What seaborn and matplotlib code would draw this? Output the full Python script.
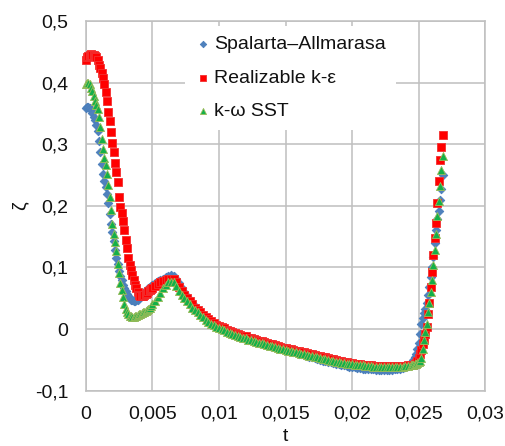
import numpy as np
import matplotlib
matplotlib.use("Agg")
import matplotlib.pyplot as plt
import seaborn as sns

# Time instants of the stored samples: every 0.0001 s at the start and end,
# every 0.0002 s in the middle of the cycle.
t = np.round(np.concatenate([
    np.arange(51) * 1e-4,            # 0.0000 ... 0.0050
    0.0052 + np.arange(97) * 2e-4,   # 0.0052 ... 0.0244
    0.0245 + np.arange(24) * 1e-4,   # 0.0245 ... 0.0268
]), 5)

labels = ["Spalarta\u2013Allmarasa", "Realizable k-\u03b5", "k-\u03c9 SST"]

zeta_sa = [
    0.358, 0.360, 0.361, 0.359, 0.355, 0.350, 0.345, 0.339, 0.332, 0.321,
    0.305, 0.287, 0.268, 0.252, 0.241, 0.231, 0.219, 0.204, 0.186, 0.171,
    0.157, 0.143, 0.129, 0.116, 0.105, 0.095, 0.086, 0.079, 0.072, 0.066,
    0.061, 0.057, 0.053, 0.050, 0.048, 0.047, 0.046, 0.046, 0.047, 0.048,
    0.050, 0.052, 0.055, 0.057, 0.060, 0.062, 0.064, 0.066, 0.068, 0.070,
    0.072,
    0.075, 0.078, 0.080, 0.082, 0.084, 0.086, 0.087, 0.086, 0.082, 0.074,
    0.066, 0.060, 0.054, 0.048, 0.042, 0.037, 0.032, 0.027, 0.023, 0.019,
    0.015, 0.012, 0.009, 0.006, 0.003, 0.001, -0.002, -0.004, -0.006, -0.008,
    -0.010, -0.011, -0.013, -0.014, -0.015, -0.017, -0.018, -0.019, -0.021, -0.022,
    -0.023, -0.024, -0.026, -0.027, -0.028, -0.029, -0.030, -0.032, -0.033, -0.034,
    -0.035, -0.036, -0.037, -0.038, -0.040, -0.041, -0.042, -0.044, -0.045, -0.046,
    -0.047, -0.048, -0.050, -0.051, -0.052, -0.053, -0.054, -0.055, -0.056, -0.057,
    -0.058, -0.059, -0.060, -0.061, -0.062, -0.062, -0.063, -0.063, -0.064, -0.064,
    -0.065, -0.065, -0.065, -0.066, -0.066, -0.066, -0.066, -0.066, -0.066, -0.066,
    -0.065, -0.065, -0.064, -0.063, -0.062, -0.060, -0.058,
    -0.056, -0.050, -0.045, -0.040, -0.032, -0.022, -0.008, 0.008, 0.018, 0.026,
    0.033, 0.042, 0.055, 0.068, 0.084, 0.100, 0.117, 0.140, 0.160, 0.178,
    0.192, 0.210, 0.228, 0.250,
]

zeta_rke = [
    0.436, 0.441, 0.444, 0.445, 0.446, 0.445, 0.445, 0.444, 0.441, 0.436,
    0.429, 0.423, 0.416, 0.408, 0.398, 0.385, 0.370, 0.353, 0.337, 0.320,
    0.302, 0.287, 0.270, 0.255, 0.238, 0.215, 0.198, 0.189, 0.176, 0.160,
    0.145, 0.132, 0.115, 0.104, 0.096, 0.088, 0.080, 0.072, 0.066, 0.060,
    0.056, 0.054, 0.053, 0.054, 0.055, 0.057, 0.059, 0.061, 0.063, 0.065,
    0.067,
    0.070, 0.073, 0.076, 0.078, 0.080, 0.081, 0.082, 0.081, 0.077, 0.069,
    0.062, 0.056, 0.050, 0.045, 0.040, 0.035, 0.031, 0.027, 0.023, 0.019,
    0.016, 0.013, 0.010, 0.007, 0.005, 0.003, 0.001, -0.001, -0.003, -0.005,
    -0.007, -0.008, -0.010, -0.011, -0.012, -0.014, -0.015, -0.016, -0.018, -0.019,
    -0.020, -0.021, -0.023, -0.024, -0.025, -0.026, -0.027, -0.029, -0.030, -0.031,
    -0.032, -0.033, -0.034, -0.035, -0.036, -0.037, -0.038, -0.039, -0.040, -0.041,
    -0.042, -0.043, -0.044, -0.045, -0.046, -0.047, -0.048, -0.049, -0.050, -0.051,
    -0.052, -0.053, -0.054, -0.055, -0.055, -0.056, -0.057, -0.057, -0.058, -0.058,
    -0.059, -0.059, -0.060, -0.060, -0.060, -0.060, -0.060, -0.060, -0.060, -0.060,
    -0.060, -0.060, -0.060, -0.060, -0.060, -0.059, -0.059,
    -0.059, -0.058, -0.057, -0.055, -0.052, -0.047, -0.041, -0.034, -0.025, -0.017,
    -0.008, 0.004, 0.025, 0.043, 0.069, 0.093, 0.120, 0.148, 0.172, 0.205,
    0.240, 0.275, 0.295, 0.315,
]

zeta_sst = [
    0.397, 0.399, 0.399, 0.397, 0.392, 0.386, 0.378, 0.370, 0.363, 0.357,
    0.345, 0.328, 0.308, 0.292, 0.278, 0.266, 0.252, 0.234, 0.214, 0.194,
    0.170, 0.155, 0.141, 0.126, 0.106, 0.091, 0.075, 0.064, 0.052, 0.040,
    0.032, 0.027, 0.024, 0.022, 0.021, 0.020, 0.020, 0.021, 0.022, 0.023,
    0.024, 0.025, 0.026, 0.027, 0.028, 0.029, 0.031, 0.033, 0.035, 0.037,
    0.040,
    0.046, 0.052, 0.058, 0.066, 0.072, 0.076, 0.077, 0.076, 0.070, 0.062,
    0.056, 0.051, 0.045, 0.040, 0.035, 0.031, 0.027, 0.023, 0.019, 0.015,
    0.012, 0.009, 0.007, 0.004, 0.002, 0.000, -0.002, -0.004, -0.006, -0.008,
    -0.010, -0.011, -0.013, -0.014, -0.015, -0.017, -0.018, -0.019, -0.021, -0.022,
    -0.023, -0.024, -0.026, -0.027, -0.028, -0.029, -0.030, -0.032, -0.033, -0.034,
    -0.035, -0.036, -0.037, -0.038, -0.039, -0.040, -0.041, -0.042, -0.043, -0.044,
    -0.045, -0.046, -0.047, -0.048, -0.049, -0.050, -0.051, -0.052, -0.053, -0.054,
    -0.055, -0.055, -0.056, -0.057, -0.057, -0.058, -0.058, -0.059, -0.059, -0.060,
    -0.060, -0.060, -0.061, -0.061, -0.061, -0.061, -0.061, -0.061, -0.061, -0.061,
    -0.061, -0.061, -0.061, -0.061, -0.060, -0.060, -0.059,
    -0.059, -0.058, -0.057, -0.056, -0.055, -0.053, -0.051, -0.047, -0.033, -0.017,
    -0.005, 0.009, 0.027, 0.042, 0.060, 0.080, 0.104, 0.128, 0.155, 0.183,
    0.208, 0.232, 0.258, 0.281,
]

x_ticks = [0, 0.005, 0.01, 0.015, 0.02, 0.025, 0.03]
x_tick_labels = ["0", "0,005", "0,01", "0,015", "0,02", "0,025", "0,03"]
y_ticks = [-0.1, 0, 0.1, 0.2, 0.3, 0.4, 0.5]
y_tick_labels = ["-0,1", "0", "0,1", "0,2", "0,3", "0,4", "0,5"]

sns.set_style("white")
plt.rcParams["font.family"] = ["Liberation Sans", "DejaVu Sans"]

text_color = "#111111"
grid_color = "#BFBFBF"

fig = plt.figure(figsize=(5.05, 4.46), dpi=100)
ax = fig.add_axes([0.1697, 0.1240, 0.7913, 0.8289])

styles = [
    (zeta_sa, "D", "#4F81BD", "#4A7EBB", 19),
    (zeta_rke, "s", "#FF0000", "#F23030", 31),
    (zeta_sst, "^", "#12B04A", "#9BBB59", 34),
]
for name, (vals, marker, face, edge, size) in zip(labels, styles):
    sns.scatterplot(x=t, y=vals, ax=ax, marker=marker, color=face,
                    edgecolor=edge, linewidth=0.6, s=size, label=name,
                    clip_on=False, zorder=3)

ax.set_xlim(0, 0.03)
ax.set_ylim(-0.1, 0.5)
ax.set_xticks(x_ticks)
ax.set_xticklabels(x_tick_labels)
ax.set_yticks(y_ticks)
ax.set_yticklabels(y_tick_labels)
ax.tick_params(length=0, labelsize=14, colors=text_color)
ax.tick_params(axis="x", pad=11)
ax.tick_params(axis="y", pad=12.5)

ax.set_axisbelow(True)
ax.grid(True, color=grid_color, linewidth=1.1)
for sp in ax.spines.values():
    sp.set_color(grid_color)
    sp.set_linewidth(1.1)

ax.set_xlabel("t", fontsize=14, color=text_color)
ax.xaxis.set_label_coords(0.5, -0.100)
ax.set_ylabel("\u03b6", fontsize=14, color=text_color)
ax.yaxis.set_label_coords(-0.143, 0.5)

leg = ax.legend(loc="upper left", bbox_to_anchor=(185 / 505, 1 - 26 / 446),
                bbox_transform=fig.transFigure, borderaxespad=0,
                frameon=True, fancybox=False, framealpha=1,
                edgecolor="none", facecolor="white", fontsize=14,
                handlelength=0.8, handletextpad=0.2, labelspacing=0.82,
                borderpad=0.5, markerscale=0.75)
for txt in leg.get_texts():
    txt.set_color(text_color)
leg.set_zorder(5)

fig.savefig("out.png", dpi=100)
